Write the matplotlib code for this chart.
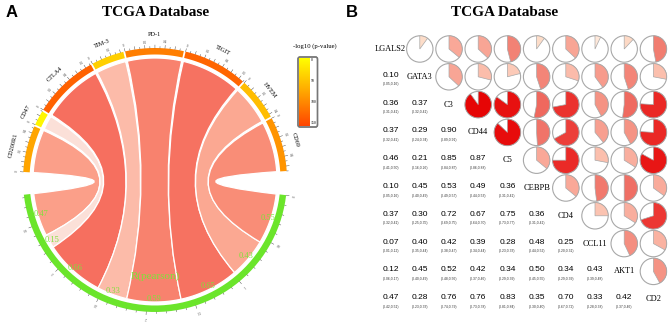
import numpy as np
import matplotlib
matplotlib.use("Agg")
import matplotlib.pyplot as plt
from matplotlib.patches import Wedge, Circle, PathPatch, FancyBboxPatch
from matplotlib.path import Path
from matplotlib.colors import LinearSegmentedColormap, Normalize

# ---- panel A data: chord diagram
chord_genes = ["CD200R1", "CD47", "CTLA4", "TIM-3", "PD-1", "TIGIT", "HVEM", "CD69"]
chord_r = [0.47, 0.15, 0.66, 0.33, 0.59, 0.65, 0.43, 0.55]
chord_neglogp = [75, 8, 128, 40, 105, 125, 55, 88]
cbar_ticks = [0, 50, 100, 150]

# ---- panel B data: correlation matrix
genes = ["LGALS2", "GATA3", "C3", "CD44", "C5", "CEBPB", "CD4", "CCL11", "AKT1", "CD2"]
lower_r = [
    [],
    [0.10],
    [0.36, 0.37],
    [0.37, 0.29, 0.90],
    [0.46, 0.21, 0.85, 0.87],
    [0.10, 0.45, 0.53, 0.49, 0.36],
    [0.37, 0.30, 0.72, 0.67, 0.75, 0.36],
    [0.07, 0.40, 0.42, 0.39, 0.28, 0.48, 0.25],
    [0.12, 0.45, 0.52, 0.42, 0.34, 0.50, 0.34, 0.43],
    [0.47, 0.28, 0.76, 0.76, 0.83, 0.35, 0.70, 0.33, 0.42],
]
lower_ci = [
    [],
    ["(0.05,0.16)"],
    ["(0.31,0.41)", "(0.32,0.41)"],
    ["(0.32,0.41)", "(0.24,0.34)", "(0.89,0.91)"],
    ["(0.41,0.50)", "(0.16,0.26)", "(0.84,0.87)", "(0.86,0.88)"],
    ["(0.05,0.16)", "(0.40,0.49)", "(0.49,0.57)", "(0.44,0.53)", "(0.31,0.41)"],
    ["(0.32,0.41)", "(0.25,0.35)", "(0.69,0.75)", "(0.64,0.70)", "(0.73,0.77)", "(0.31,0.41)"],
    ["(0.01,0.12)", "(0.35,0.44)", "(0.38,0.47)", "(0.34,0.44)", "(0.23,0.33)", "(0.44,0.52)", "(0.20,0.31)"],
    ["(0.06,0.17)", "(0.40,0.49)", "(0.48,0.56)", "(0.37,0.46)", "(0.29,0.39)", "(0.45,0.55)", "(0.29,0.39)", "(0.39,0.48)"],
    ["(0.42,0.51)", "(0.23,0.33)", "(0.74,0.79)", "(0.73,0.78)", "(0.81,0.84)", "(0.30,0.40)", "(0.67,0.72)", "(0.28,0.38)", "(0.37,0.46)"],
]

SERIF = "Liberation Serif"
SANS = "Liberation Sans"
GREEN = "#6BE52B"
GREEN_TXT = "#7FE23A"

fig = plt.figure(figsize=(6.69, 3.22), dpi=100)
ax = fig.add_axes([0, 0, 1, 1])
ax.set_xlim(0, 669)
ax.set_ylim(322, 0)
ax.axis("off")

# layout (pixel units)
CX, CY = 155, 180
R_OUT, R_IN, R_CH = 132, 125.5, 122
K = 43.6          # degrees per unit of r
GAP = 0.8
TOP_START = 176.5
BOT_START = -6.6


def pt(r, deg):
    a = np.deg2rad(deg)
    return CX + r * np.cos(a), CY - r * np.sin(a)


def ring(a0, a1, color):
    ang = np.linspace(a0, a1, 60)
    outer = [pt(R_OUT, a) for a in ang]
    inner = [pt(R_IN, a) for a in ang[::-1]]
    ax.add_patch(plt.Polygon(outer + inner, closed=True, fc=color, ec="none"))


def ticks(a0, total, minor, major, lab_every):
    n = int(round(total / minor)) + 1
    for i in range(n):
        t = i * minor
        if t > total + 1e-9:
            break
        a = a0 - t * K
        is_major = abs(t / major - round(t / major)) < 1e-6
        r2 = R_OUT + (3 if is_major else 1.6)
        x1, y1 = pt(R_OUT, a)
        x2, y2 = pt(r2, a)
        ax.plot([x1, x2], [y1, y2], color="#333333", lw=0.3)
        if abs(t / lab_every - round(t / lab_every)) < 1e-6:
            tx, ty = pt(R_OUT + 6, a)
            ax.text(tx, ty, f"{t:g}", fontsize=2.3, family=SERIF, ha="center",
                    va="center", rotation=a - 90, color="#333333")


chord_cmap = LinearSegmentedColormap.from_list(
    "ch", [(0, "#FFF4F0"), (0.15, "#FBE0D8"), (0.33, "#FCBBA9"), (0.45, "#FBA48E"),
           (0.59, "#F8836E"), (0.66, "#F66F5F"), (1, "#E8000B")])
p_cmap = LinearSegmentedColormap.from_list("p", ["#FFFF00", "#FFA500", "#FF4500"])
p_norm = Normalize(0, 150)

# top sectors
top_seg = []
a = TOP_START
for g, v, p in zip(chord_genes, chord_r, chord_neglogp):
    a0, a1 = a, a - v * K
    top_seg.append((a0, a1))
    ring(a0, a1, p_cmap(p_norm(p)))
    ticks(a0, v, 0.05, 0.1, 0.2)
    mid = (a0 + a1) / 2
    tx, ty = pt(R_OUT + 14, mid)
    ax.text(tx, ty, g, fontsize=4.5, family=SERIF, ha="center", va="center",
            rotation=mid - 90)
    a = a1 - GAP

# bottom sector (R pearson)
total = sum(chord_r)
ring(BOT_START, BOT_START - total * K, GREEN)
ticks(BOT_START, total, 0.1, 0.5, 0.5)
bot_seg = {}
b = BOT_START
for g, v in zip(chord_genes[::-1], chord_r[::-1]):
    bot_seg[g] = (b, b - v * K)
    b = b - v * K

# chords
for g, v, (a0, a1) in zip(chord_genes, chord_r, top_seg):
    b0, b1 = bot_seg[g]
    verts, codes = [], []
    for i, an in enumerate(np.linspace(a0, a1, 40)):
        verts.append(pt(R_CH, an))
        codes.append(Path.MOVETO if i == 0 else Path.LINETO)
    verts += [(CX, CY), pt(R_CH, b0)]
    codes += [Path.CURVE3, Path.CURVE3]
    for an in np.linspace(b0, b1, 40)[1:]:
        verts.append(pt(R_CH, an))
        codes.append(Path.LINETO)
    verts += [(CX, CY), pt(R_CH, a0)]
    codes += [Path.CURVE3, Path.CURVE3]
    ax.add_patch(PathPatch(Path(verts, codes), fc=chord_cmap(v), ec="white", lw=0.9))
    mx, my = pt(119, (b0 + b1) / 2)
    ax.text(mx, my, f"{v:.2f}", fontsize=6, family=SERIF, color=GREEN_TXT,
            ha="center", va="center")

ax.text(CX, 276, "R(pearson)", fontsize=8, family=SERIF, color=GREEN_TXT,
        ha="center", va="center")

# colour key
ax.text(315, 46, "-log10 (p-value)", fontsize=4.8, family=SERIF, ha="center", va="center")
grad = np.linspace(0, 150, 200).reshape(-1, 1)
ax.imshow(grad, cmap=p_cmap, norm=p_norm, extent=(299, 309.5, 126, 58),
          aspect="auto", origin="upper", zorder=2)
ax.add_patch(FancyBboxPatch((298, 57), 19.5, 70, boxstyle="round,pad=0,rounding_size=2",
                            fc="white", ec="#777777", lw=1.0, zorder=1))
ax.add_patch(FancyBboxPatch((298, 57), 19.5, 70, boxstyle="round,pad=0,rounding_size=2",
                            fc="none", ec="#777777", lw=1.0, zorder=3))
for t in cbar_ticks:
    ax.text(310.5, 60 + t / 150 * 63, f"{t}", fontsize=2.8, family=SERIF,
            ha="left", va="center", zorder=4)
ax.set_xlim(0, 669)
ax.set_ylim(322, 0)

# titles
ax.text(12, 12, "A", fontsize=12, fontweight="bold", family=SANS, ha="center", va="center")
ax.text(156, 12, "TCGA Database", fontsize=11, fontweight="bold", family=SERIF,
        ha="center", va="center")
ax.text(352, 12, "B", fontsize=12, fontweight="bold", family=SANS, ha="center", va="center")
ax.text(505, 12, "TCGA Database", fontsize=11, fontweight="bold", family=SERIF,
        ha="center", va="center")

# ---- panel B
pie_cmap = LinearSegmentedColormap.from_list(
    "pie", [(0, "#FFFFFF"), (0.1, "#FDDCC8"), (0.3, "#FBBBAA"), (0.4, "#F79B8C"),
            (0.5, "#EF7065"), (0.7, "#EC3733"), (0.9, "#E60505"), (1, "#D00000")])
X0, DX = 390.6, 29.2
Y0, DY = 49, 27.8
PR = 13.2
n = len(genes)
for i in range(n):
    for j in range(n):
        x, y = X0 + j * DX, Y0 + i * DY
        if i == j:
            ax.text(x, y, genes[i], fontsize=6, family=SERIF, ha="center", va="center")
        elif j < i:
            ax.text(x, y - 1.5, f"{lower_r[i][j]:.2f}", fontsize=6, family=SANS,
                    ha="center", va="center")
            ax.text(x, y + 7.5, lower_ci[i][j], fontsize=2.4, family=SANS,
                    ha="center", va="center", color="#333333")
        else:
            v = lower_r[j][i]
            ax.add_patch(Circle((x, y), PR, fc="white", ec="#A8A8A8", lw=0.8))
            # y axis is inverted, so angles run clockwise on screen
            ax.add_patch(Wedge((x, y), PR, -90, -90 + 360 * v, fc=pie_cmap(v),
                               ec="#A8A8A8", lw=0.5))

fig.savefig("out.png", dpi=100)
